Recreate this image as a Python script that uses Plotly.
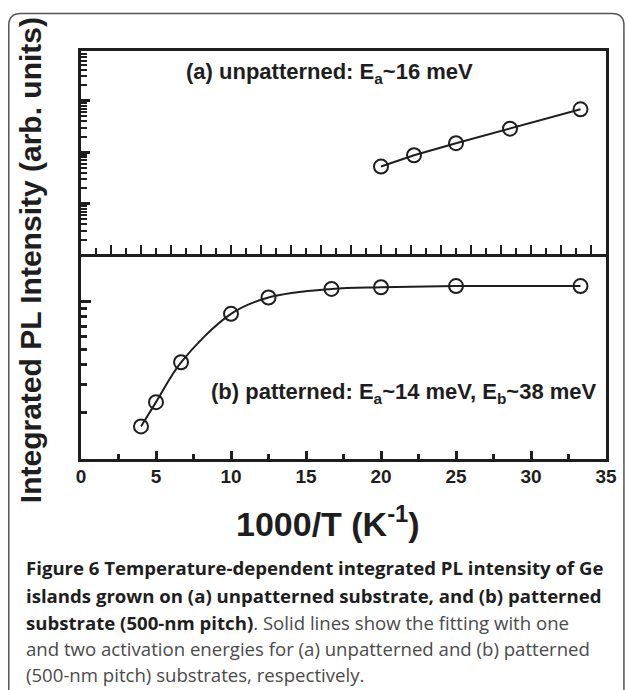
import plotly.graph_objects as go

# ---------------- data ----------------
x_a = [20.0, 22.2, 25.0, 28.6, 33.3]          # 1000/T (K^-1), unpatterned
I_a = [52.7, 87.5, 150.0, 288.0, 684.0]       # integrated PL intensity (arb.)

x_b = [4.0, 5.0, 6.67, 10.0, 12.5, 16.7, 20.0, 25.0, 33.3]   # patterned
I_b = [1.64, 2.33, 4.15, 8.37, 10.6, 12.0, 12.3, 12.5, 12.5]

x_ticks = [0, 5, 10, 15, 20, 25, 30, 35]
minor_a = [d * 10 ** k for k in range(0, 4) for d in range(2, 10)]
minor_b = [d for d in range(2, 10)]
label_a = "(a) unpatterned: E<sub>a</sub>~16 meV"
label_b = "(b) patterned: E<sub>a</sub>~14 meV, E<sub>b</sub>~38 meV"
x_title = "1000/T (K<sup>-1</sup>)"
y_title = "Integrated PL Intensity (arb. units)"
caption = [
    "<span style='color:#1e1e1e'><b>Figure 6 Temperature-dependent integrated PL intensity of Ge</b></span>",
    "<span style='color:#1e1e1e'><b>islands grown on (a) unpatterned substrate, and (b) patterned</b></span>",
    "<span style='color:#1e1e1e'><b>substrate (500-nm pitch)</b></span>. Solid lines show the fitting with one",
    "and two activation energies for (a) unpatterned and (b) patterned",
    "(500-nm pitch) substrates, respectively.",
]

# ---------------- layout constants ----------------
W, H = 629, 690
L, R, T, B = 81, 21, 51, 231
PW, PH = W - L - R, H - T - B
INK = "#1e1e1e"
BOLDF = "Liberation Sans, Arial, sans-serif"

def px(xp):
    return (xp - L) / PW

def py(yp):
    return (H - B - yp) / PH

fig = go.Figure()

mk = dict(symbol="circle-open", size=14, color=INK, line=dict(width=2, color=INK))

fig.add_trace(go.Scatter(x=x_a, y=I_a, mode="lines+markers", xaxis="x2", yaxis="y2",
                         line=dict(color=INK, width=2), marker=mk, showlegend=False))
fig.add_trace(go.Scatter(x=x_b, y=I_b, mode="lines+markers", xaxis="x", yaxis="y",
                         line=dict(color=INK, width=2, shape="spline", smoothing=1.0),
                         marker=mk, showlegend=False))

axis_common = dict(showline=True, linewidth=3, linecolor=INK, mirror=True,
                   showgrid=False, zeroline=False)

lower_top = (459 - 256.5) / PH
upper_bot = (459 - 253.5) / PH

fig.update_layout(
    width=W, height=H,
    margin=dict(l=L, r=R, t=T, b=B),
    paper_bgcolor="white", plot_bgcolor="white",
    xaxis=dict(domain=[0, 1], range=[0, 35], anchor="y",
               tickmode="array", tickvals=x_ticks, ticktext=[str(v) for v in x_ticks],
               ticks="inside", ticklen=8, tickwidth=2.5, tickcolor=INK,
               minor=dict(ticks="inside", ticklen=5.5, tickwidth=2.5, tickcolor=INK, dtick=2.5, tick0=0),
               tickfont=dict(family=BOLDF, size=19, color=INK, weight="bold"),
               ticklabelstandoff=-2,
               **axis_common),
    yaxis=dict(domain=[0, lower_top], type="log", range=[0.01, 1.283], anchor="x",
               showticklabels=False, dtick=1,
               ticks="inside", ticklen=10, tickwidth=2.5, tickcolor=INK,
               minor=dict(ticks="inside", ticklen=6, tickwidth=2.5, tickcolor=INK,
                          tickmode="array", tickvals=minor_b),
               **axis_common),
    xaxis2=dict(domain=[0, 1], range=[0, 35], anchor="y2", showticklabels=False,
                dtick=2, tick0=0,
                ticks="inside", ticklen=9, tickwidth=2, tickcolor=INK,
                minor=dict(ticks="inside", ticklen=5.5, tickwidth=2, tickcolor=INK, dtick=1, tick0=0),
                **axis_common),
    yaxis2=dict(domain=[upper_bot, 1], type="log", range=[0.03, 3.97], anchor="x2",
                showticklabels=False, dtick=1,
                ticks="inside", ticklen=9, tickwidth=2.5, tickcolor=INK,
                minor=dict(ticks="inside", ticklen=5.5, tickwidth=2, tickcolor=INK,
                           tickmode="array", tickvals=minor_a),
                **axis_common),
)

ann = []
ann.append(dict(text=label_a, xref="paper", yref="paper", x=px(330), y=py(73),
                xanchor="center", yanchor="middle", showarrow=False,
                font=dict(family=BOLDF, size=22, color=INK, weight="bold")))
ann.append(dict(text=label_b, xref="paper", yref="paper", x=px(405.5), y=py(393),
                xanchor="center", yanchor="middle", showarrow=False,
                font=dict(family=BOLDF, size=22, color=INK, weight="bold")))
ann.append(dict(text=x_title, xref="paper", yref="paper", x=px(329), y=py(521),
                xanchor="center", yanchor="middle", showarrow=False,
                font=dict(family=BOLDF, size=34, color=INK, weight="bold")))
ann.append(dict(text=y_title, xref="paper", yref="paper", x=px(30), y=py(260),
                xanchor="center", yanchor="middle", showarrow=False, textangle=-90,
                font=dict(family=BOLDF, size=30, color=INK, weight="bold")))
cap_y = [567, 595, 622, 648, 674]
for txt, yy in zip(caption, cap_y):
    ann.append(dict(text=txt, xref="paper", yref="paper", x=px(24), y=py(yy),
                    xanchor="left", yanchor="middle", showarrow=False,
                    font=dict(family="Open Sans, Noto Sans, sans-serif", size=18.6, color="#4a4a4a")))
fig.update_layout(annotations=ann)

# card border (rounded top corners)
rr = 12
path = (f"M {px(8.5)},{py(700)} L {px(8.5)},{py(13.5 + rr)} "
        f"Q {px(8.5)},{py(13.5)} {px(8.5 + rr)},{py(13.5)} "
        f"L {px(626 - rr)},{py(13.5)} Q {px(626)},{py(13.5)} {px(626)},{py(13.5 + rr)} "
        f"L {px(626)},{py(700)}")
fig.add_shape(type="path", xref="paper", yref="paper", path=path,
              line=dict(color="#555555", width=1.5), layer="below")

fig.write_html("out.html")
